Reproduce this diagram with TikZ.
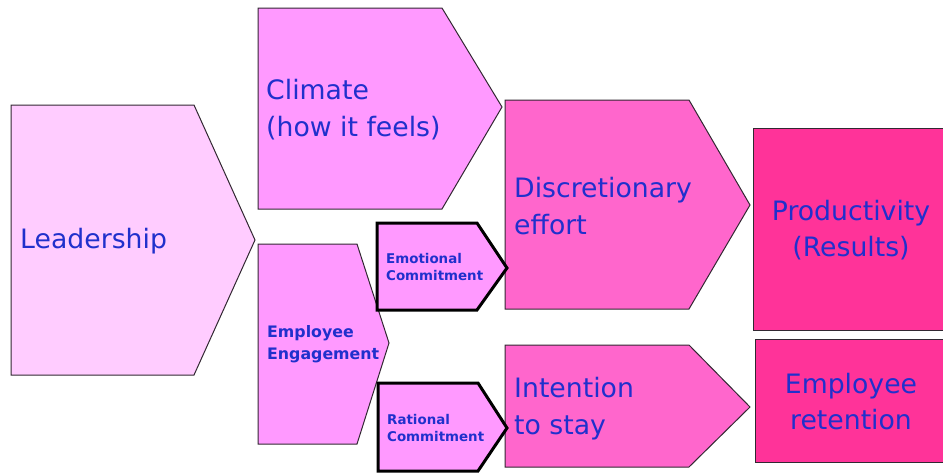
\documentclass[tikz,border=0pt]{standalone}
\usepackage{fontspec}
\setmainfont{DejaVu Sans}
\definecolor{lead}{RGB}{255,204,255}
\definecolor{mid}{RGB}{255,153,255}
\definecolor{deep}{RGB}{255,102,204}
\definecolor{res}{RGB}{255,51,153}
\definecolor{txt}{RGB}{32,48,204}
\definecolor{edge}{RGB}{50,40,50}
\begin{document}
\begin{tikzpicture}[x=1pt,y=-1pt,
  shapethin/.style={draw=edge,line width=1pt,line join=miter},
  shapethick/.style={draw=black,line width=3pt,line join=miter},
  big/.style={text=txt,font=\fontsize{26.7}{37}\selectfont,align=left,inner sep=0pt},
  bigc/.style={text=txt,font=\fontsize{26.7}{36}\selectfont,align=center,inner sep=0pt},
  small/.style={text=txt,font=\bfseries\fontsize{13.4}{17.5}\selectfont,align=left,inner sep=0pt},
  smallb/.style={text=txt,font=\bfseries\fontsize{15.8}{22}\selectfont,align=left,inner sep=0pt}]
\useasboundingbox (0,0) rectangle (943,474);
% shapes
\draw[shapethin,fill=lead] (11,105) -- (194,105) -- (255,240) -- (194,375) -- (11,375) -- cycle;
\draw[shapethin,fill=mid] (258,8) -- (442,8) -- (502,107) -- (442,209) -- (258,209) -- cycle;
\draw[shapethin,fill=mid] (258,244) -- (357,244) -- (389,343) -- (357,444) -- (258,444) -- cycle;
\draw[shapethin,fill=deep] (505,100) -- (689,100) -- (750,205) -- (689,309) -- (505,309) -- cycle;
\draw[shapethin,fill=deep] (505,345) -- (689,345) -- (750,407) -- (689,467) -- (505,467) -- cycle;
\draw[shapethin,fill=res] (753,128) rectangle (946,330);
\draw[shapethin,fill=res] (755,339) rectangle (946,462);
\draw[shapethick,fill=mid] (377,223) -- (477,223) -- (507,268) -- (477,310) -- (377,310) -- cycle;
\draw[shapethick,fill=mid] (378,383) -- (478,383) -- (507,428) -- (478,471) -- (378,471) -- cycle;
% texts
\node[big,anchor=west] (leadership) at (20,241) {Leadership};
\node[big,anchor=west] (climate) at (266,110) {Climate\\(how it feels)};
\node[smallb,anchor=west] (engagement) at (267,344) {Employee\\Engagement};
\node[small,anchor=west] (emotional) at (386,267) {Emotional\\Commitment};
\node[small,anchor=west] (rational) at (387,428) {Rational\\Commitment};
\node[big,anchor=west] (discretionary) at (514,206) {Discretionary\\effort};
\node[big,anchor=west] (intention) at (514,409) {Intention\\to stay};
\node[bigc] (productivity) at (851,230) {Productivity\\(Results)};
\node[bigc] (retention) at (851,402) {Employee\\retention};
\end{tikzpicture}
\end{document}
